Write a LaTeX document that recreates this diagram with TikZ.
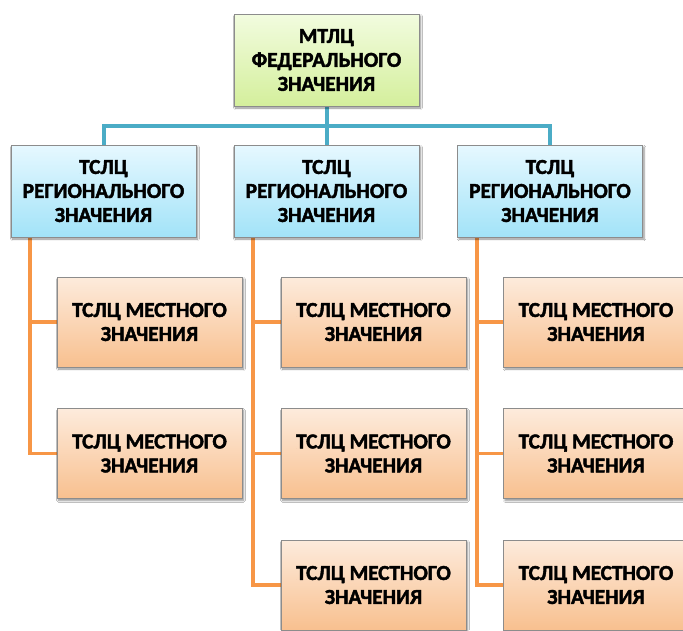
\documentclass[tikz,border=0pt]{standalone}
\usepackage{fontspec}
\setmainfont{Carlito}[BoldFeatures={FakeBold=2}]
\usetikzlibrary{shadows.blur,backgrounds}
\definecolor{bline}{HTML}{4BACC6}
\definecolor{oline}{HTML}{F79646}
\definecolor{gtop}{HTML}{F2FCDF}
\definecolor{gbot}{HTML}{D4EF9C}
\definecolor{btop}{HTML}{E6F8FF}
\definecolor{bbot}{HTML}{A2E3F8}
\definecolor{otop}{HTML}{FDEBDC}
\definecolor{obot}{HTML}{F8C08F}
\tikzset{
  boxbase/.style={draw=black!45, line width=0.8pt, rectangle, minimum width=185pt, align=center,
    font=\fontsize{21.3}{24}\selectfont\bfseries, inner sep=2pt,
    blur shadow={shadow xshift=1.5pt, shadow yshift=-2pt, shadow blur steps=6, shadow opacity=45}},
  fedbox/.style={boxbase, minimum height=92pt, top color=gtop, bottom color=gbot},
  regbox/.style={boxbase, minimum height=92pt, top color=btop, bottom color=bbot},
  locbox/.style={boxbase, minimum height=90pt, top color=otop, bottom color=obot},
  bluecon/.style={draw=bline, line width=4pt, line join=miter},
  orcon/.style={draw=oline, line width=3.5pt, line join=miter}
}
\begin{document}
\begin{tikzpicture}[x=1pt,y=-1pt]
\useasboundingbox (0,0) rectangle (683,630);
\node[fedbox] (top) at (326.5,60) {МТЛЦ\\ФЕДЕРАЛЬНОГО\\ЗНАЧЕНИЯ};
\node[regbox] (r1) at (103.5,191) {ТСЛЦ\\РЕГИОНАЛЬНОГО\\ЗНАЧЕНИЯ};
\node[regbox] (r2) at (326.5,191) {ТСЛЦ\\РЕГИОНАЛЬНОГО\\ЗНАЧЕНИЯ};
\node[regbox] (r3) at (550,191) {ТСЛЦ\\РЕГИОНАЛЬНОГО\\ЗНАЧЕНИЯ};
\node[locbox] (l11) at (149.5,322) {ТСЛЦ МЕСТНОГО\\ЗНАЧЕНИЯ};
\node[locbox] (l12) at (149.5,453.5) {ТСЛЦ МЕСТНОГО\\ЗНАЧЕНИЯ};
\node[locbox] (l21) at (373.5,322) {ТСЛЦ МЕСТНОГО\\ЗНАЧЕНИЯ};
\node[locbox] (l22) at (373.5,453.5) {ТСЛЦ МЕСТНОГО\\ЗНАЧЕНИЯ};
\node[locbox] (l23) at (373.5,585) {ТСЛЦ МЕСТНОГО\\ЗНАЧЕНИЯ};
\node[locbox] (l31) at (596,322) {ТСЛЦ МЕСТНОГО\\ЗНАЧЕНИЯ};
\node[locbox] (l32) at (596,453.5) {ТСЛЦ МЕСТНОГО\\ЗНАЧЕНИЯ};
\node[locbox] (l33) at (596,585) {ТСЛЦ МЕСТНОГО\\ЗНАЧЕНИЯ};
\coordinate (bj) at (326.5,126);
\coordinate (o1) at (30,0);
\coordinate (o2) at (253,0);
\coordinate (o3) at (477,0);
\begin{scope}[on background layer]
\fill[white] (0,0) rectangle (683,630);
\draw[bluecon] (top.south) -- (r2.north);
\draw[bluecon] (r1.north) |- (bj) -| (r3.north);
\draw[orcon] (r1.south -| o1) |- (l11.west);
\draw[orcon] (r1.south -| o1) |- (l12.west);
\draw[orcon] (r2.south -| o2) |- (l21.west);
\draw[orcon] (r2.south -| o2) |- (l22.west);
\draw[orcon] (r2.south -| o2) |- (l23.west);
\draw[orcon] (r3.south -| o3) |- (l31.west);
\draw[orcon] (r3.south -| o3) |- (l32.west);
\draw[orcon] (r3.south -| o3) |- (l33.west);
\end{scope}
\end{tikzpicture}
\end{document}
